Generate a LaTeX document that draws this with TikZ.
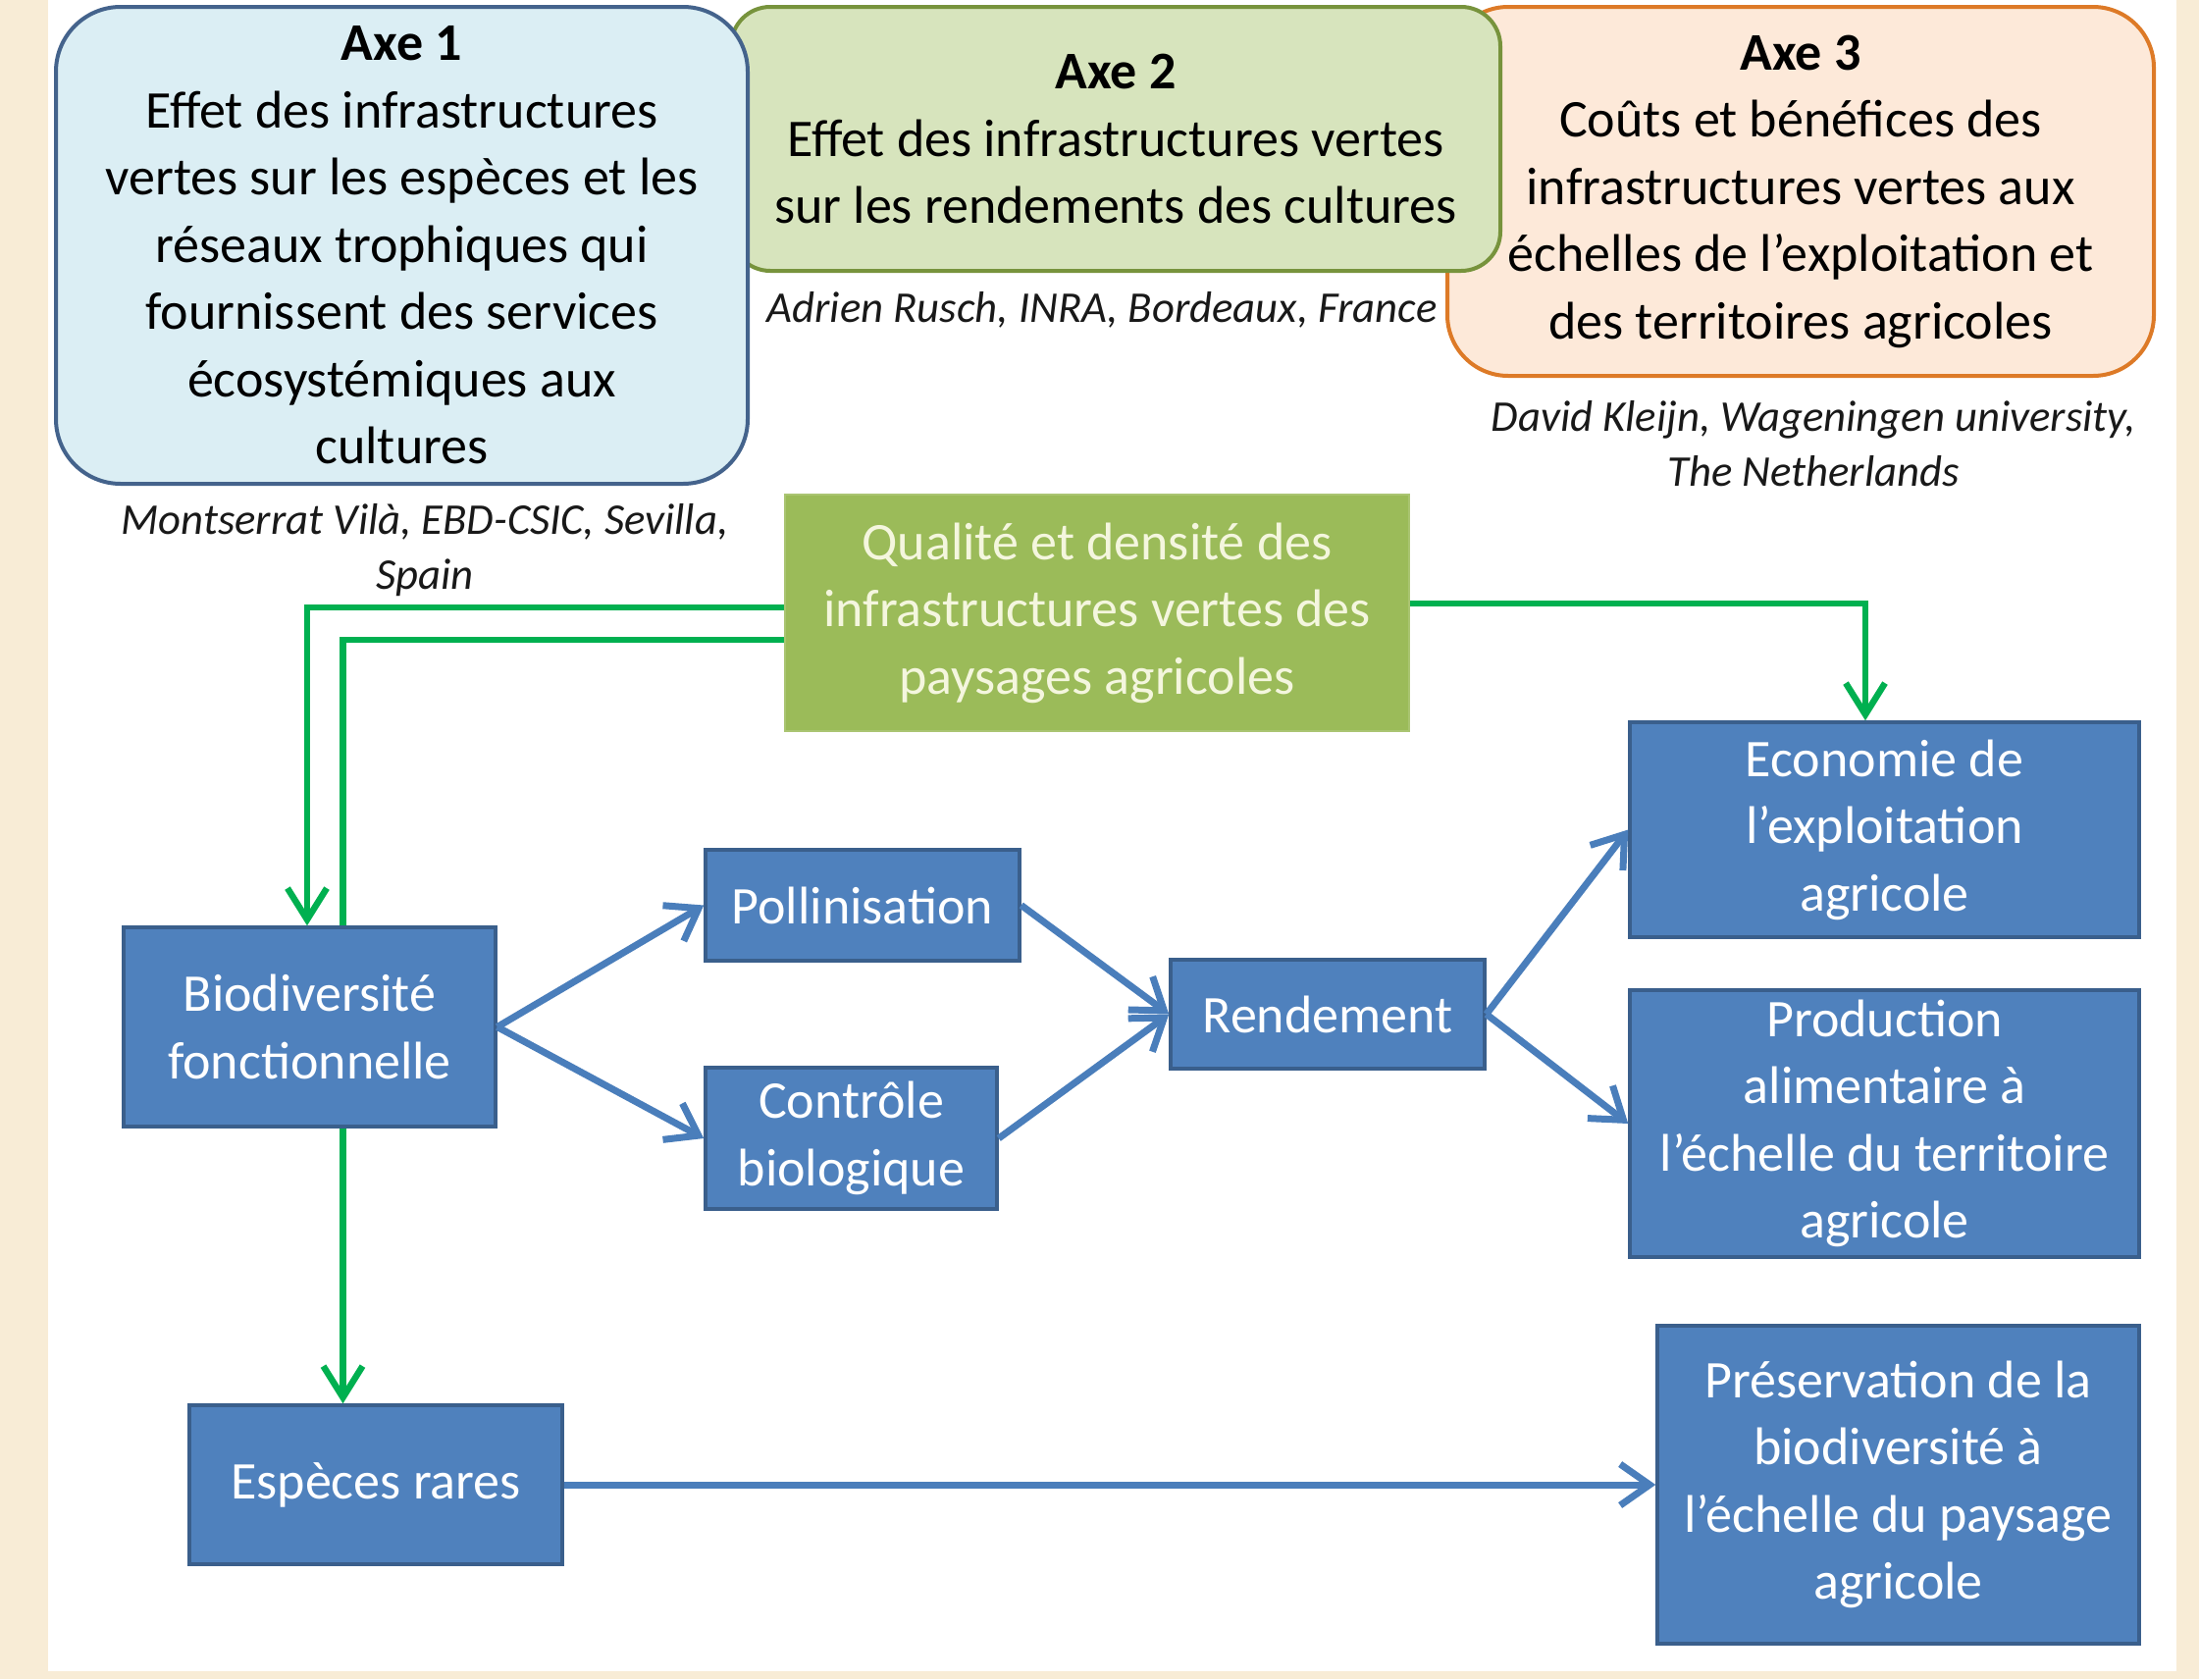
\documentclass[tikz,border=0pt]{standalone}
\usepackage{fontspec}
\setmainfont{Carlito}
\usetikzlibrary{arrows.meta}
\definecolor{parch}{HTML}{F8ECD6}
\definecolor{axeAfill}{HTML}{DBEEF4}
\definecolor{axeAdraw}{HTML}{44638C}
\definecolor{axeBfill}{HTML}{D7E4BD}
\definecolor{axeBdraw}{HTML}{77933C}
\definecolor{axeCfill}{HTML}{FDE9D9}
\definecolor{axeCdraw}{HTML}{DD7A27}
\definecolor{qualfill}{HTML}{9BBB59}
\definecolor{qualtext}{HTML}{F4F6DE}
\definecolor{boxblue}{HTML}{4F81BD}
\definecolor{boxedge}{HTML}{3A5F8C}
\definecolor{arrblue}{HTML}{4A7EBB}
\definecolor{lnkgreen}{HTML}{00B050}
\newcommand{\bigtxt}{\fontsize{54}{68.5}\selectfont}
\newcommand{\captxt}{\fontsize{44.7}{56}\selectfont\itshape}
\begin{document}
\begin{tikzpicture}[x=1pt,y=-1pt,
  axebox/.style={line width=4pt, rounded corners=#1, align=center, inner sep=0pt, font=\bigtxt, text=black},
  bluebox/.style={draw=boxedge, line width=3.5pt, fill=boxblue, text=white, align=center, inner sep=0pt, font=\bigtxt},
  qualbox/.style={fill=qualfill, draw=qualfill!85!white, line width=2pt, text=qualtext, align=center, inner sep=0pt, font=\bigtxt},
  captext/.style={align=center, inner sep=0pt, font=\captxt, text=black!90},
  barrow/.style={draw=arrblue, line width=7pt, -{Straight Barb[length=30pt,width=42pt]}},
  garrow/.style={draw=lnkgreen, line width=6.5pt, -{Straight Barb[length=32pt,width=40pt]}},
  gline/.style={draw=lnkgreen, line width=6.5pt}
]
\useasboundingbox (0,0) rectangle (2241,1711);
\fill[parch] (0,0) rectangle (2241,1711);
\fill[white] (49,0) rectangle (2218,1703);

% Axe boxes (drawn 3, 2, 1)
\node[axebox=62pt, draw=axeCdraw, fill=axeCfill, minimum width=720pt, minimum height=376pt] (axe3) at (1835,195)
  {\textbf{Axe 3}\\Coûts et bénéfices des\\infrastructures vertes aux\\échelles de l’exploitation et\\des territoires agricoles};
\node[axebox=40pt, draw=axeBdraw, fill=axeBfill, minimum width=784pt, minimum height=269pt] (axe2) at (1137,141.5)
  {\textbf{Axe 2}\\Effet des infrastructures vertes\\sur les rendements des cultures};
\node[axebox=66pt, draw=axeAdraw, fill=axeAfill, minimum width=705pt, minimum height=486pt] (axe1) at (409.5,250)
  {\textbf{Axe 1}\\Effet des infrastructures\\vertes sur les espèces et les\\réseaux trophiques qui\\fournissent des services\\écosystémiques aux\\cultures};

% captions
\node[captext] (cap1) at (433,561) {Montserrat Vilà, EBD-CSIC, Sevilla,\\Spain};
\node[captext] (cap2) at (1123,316) {Adrien Rusch, INRA, Bordeaux, France};
\node[captext] (cap3) at (1848,452) {David Kleijn, Wageningen university,\\The Netherlands};

% green source box
\node[qualbox, minimum width=636pt, minimum height=241pt] (qual) at (1118,624.5)
  {Qualité et densité des\\infrastructures vertes des\\paysages agricoles};

% blue boxes
\node[bluebox, minimum width=379pt, minimum height=203pt] (biod) at (315.5,1046.5) {Biodiversité\\fonctionnelle};
\node[bluebox, minimum width=320pt, minimum height=113pt] (poll) at (879,922.5) {Pollinisation};
\node[bluebox, minimum width=297pt, minimum height=144pt] (ctrl) at (867.5,1160) {Contrôle\\biologique};
\node[bluebox, minimum width=320pt, minimum height=111pt] (rend) at (1353,1033.5) {Rendement};
\node[bluebox, minimum width=519pt, minimum height=219pt] (econ) at (1920.5,845.5) {Economie de\\l’exploitation\\agricole};
\node[bluebox, minimum width=519pt, minimum height=272pt] (prod) at (1920.5,1145) {Production\\alimentaire à\\l’échelle du territoire\\agricole};
\node[bluebox, minimum width=380pt, minimum height=162pt] (esp) at (383,1513) {Espèces rares};
\node[bluebox, minimum width=491pt, minimum height=324pt] (pres) at (1934.5,1513) {Préservation de la\\biodiversité à\\l’échelle du paysage\\agricole};

% blue connectors
\draw[barrow] (biod.east) -- (poll.west);
\draw[barrow] (biod.east) -- (ctrl.west);
\draw[barrow] (poll.east) -- (rend.west);
\draw[barrow] (ctrl.east) -- (rend.west);
\draw[barrow] (rend.east) -- (econ.west);
\draw[barrow] (rend.east) -- (prod.west);
\draw[barrow] (esp.east) -- (pres.west);

% green connectors
\draw[garrow] ([yshift=5.5pt]qual.west) -| ([xshift=-2.5pt]biod.north);
\draw[gline] ([xshift=34pt]biod.north) |- ([yshift=-27.5pt]qual.west);
\draw[garrow] ([yshift=9.5pt]qual.east) -| ([xshift=-19.5pt]econ.north);
\draw[garrow] ([xshift=34pt]biod.south) -- ([xshift=34pt]biod.south |- esp.north);
\end{tikzpicture}
\end{document}
